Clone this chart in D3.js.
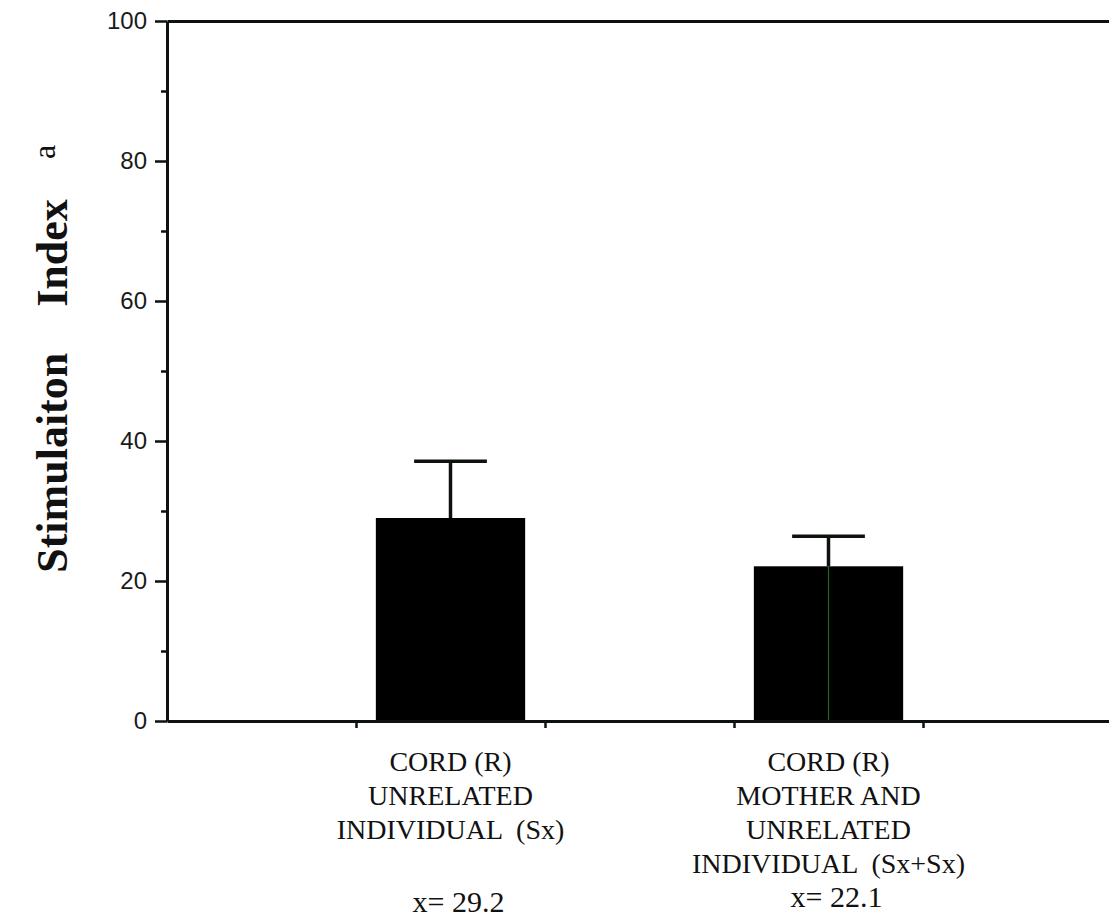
<!DOCTYPE html>
<html>
<head>
<meta charset="utf-8">
<script src="https://cdn.jsdelivr.net/npm/d3@7"></script>
<style>
  html, body { margin: 0; padding: 0; background: #fff; }
  svg { display: block; }
</style>
</head>
<body>
<div id="chart"></div>
<script>
// values
const slots = [1.5, 3.5];              // bar positions on the slot axis (0..5)
const means = [29.0, 22.1];
const upperErr = [37.1, 26.4];         // top of the error bar
const stemThrough = [false, true];     // 2nd stem shows through the black bar
const meanLabels = ["x= 29.2", "x= 22.1"];
const categoryLines = [
  ["CORD (R)", "UNRELATED", "INDIVIDUAL  (Sx)"],
  ["CORD (R)", "MOTHER AND", "UNRELATED", "INDIVIDUAL  (Sx+Sx)"]
];
const majorTicks = [0, 20, 40, 60, 80, 100];
const minorTicks = [10, 30, 50, 70, 90];
const slotTicks = [1, 2, 3, 4];

const W = 1109, H = 918;
const ink = "#0d120d";

const svg = d3.select("#chart")
  .append("svg")
    .attr("width", W)
    .attr("height", H);

svg.append("rect").attr("width", W).attr("height", H).attr("fill", "#fff");

// scales
const y = d3.scaleLinear().domain([0, 100]).range([721, 21]);
const x = d3.scaleLinear().domain([0, 5]).range([167, 1112]);
const barW = 0.79;   // in slot units
const capW = 0.385;

// bars
svg.selectAll("rect.bar")
  .data(means)
  .join("rect")
    .attr("class", "bar")
    .attr("x", (d, i) => x(slots[i] - barW / 2))
    .attr("width", x(barW) - x(0))
    .attr("y", d => y(d))
    .attr("height", d => y(0) - y(d))
    .attr("fill", "#000");

// error bar stems above the bars
svg.selectAll("line.stem")
  .data(upperErr)
  .join("line")
    .attr("class", "stem")
    .attr("x1", (d, i) => x(slots[i]))
    .attr("x2", (d, i) => x(slots[i]))
    .attr("y1", (d, i) => y(means[i]))
    .attr("y2", d => y(d))
    .attr("stroke", ink)
    .attr("stroke-width", 3.5);

// the thin stem that shows inside the second bar
const inner = means.map((d, i) => ({ v: d, s: slots[i], show: stemThrough[i] })).filter(d => d.show);
svg.selectAll("line.inner")
  .data(inner)
  .join("line")
    .attr("class", "inner")
    .attr("x1", d => x(d.s))
    .attr("x2", d => x(d.s))
    .attr("y1", y(0))
    .attr("y2", d => y(d.v))
    .attr("stroke", "#1f6b1f")
    .attr("stroke-width", 1.2);

// caps
svg.selectAll("line.cap")
  .data(upperErr)
  .join("line")
    .attr("class", "cap")
    .attr("x1", (d, i) => x(slots[i] - capW / 2))
    .attr("x2", (d, i) => x(slots[i] + capW / 2))
    .attr("y1", d => y(d))
    .attr("y2", d => y(d))
    .attr("stroke", ink)
    .attr("stroke-width", 3.5);

// top frame line
svg.append("g")
  .attr("transform", `translate(0,${y(100)})`)
  .call(d3.axisTop(x).tickValues([]).tickSizeOuter(0))
  .call(g => g.select(".domain").attr("stroke", ink).attr("stroke-width", 3));

// bottom axis, ticks only between slots
svg.append("g")
  .attr("transform", `translate(0,${y(0)})`)
  .call(d3.axisBottom(x).tickValues(slotTicks).tickSize(7).tickSizeOuter(0).tickFormat(""))
  .call(g => g.select(".domain").attr("stroke", ink).attr("stroke-width", 3))
  .call(g => g.selectAll(".tick line").attr("stroke", ink).attr("stroke-width", 2.5));

// minor y ticks
svg.append("g")
  .attr("transform", `translate(${x(0)},0)`)
  .call(d3.axisLeft(y).tickValues(minorTicks).tickSize(6).tickSizeOuter(0).tickFormat(""))
  .call(g => g.select(".domain").remove())
  .call(g => g.selectAll(".tick line").attr("stroke", ink).attr("stroke-width", 2.5));

// major y ticks with labels
svg.append("g")
  .attr("transform", `translate(${x(0)},0)`)
  .call(d3.axisLeft(y).tickValues(majorTicks).tickSize(12).tickSizeOuter(0).tickPadding(8))
  .call(g => g.select(".domain").attr("stroke", ink).attr("stroke-width", 3))
  .call(g => g.selectAll(".tick line").attr("stroke", ink).attr("stroke-width", 2.5))
  .call(g => g.selectAll(".tick text")
    .attr("fill", "#1a1a1a")
    .style("font-family", "'Liberation Sans', Arial, sans-serif")
    .style("font-size", "24px"));

// y-axis title
const yTitle = svg.append("text")
  .attr("transform", `translate(67,${(y(0) + y(100)) / 2 + 15}) rotate(-90)`)
  .attr("text-anchor", "middle")
  .attr("fill", "#111")
  .style("font-family", "'Liberation Serif', 'Times New Roman', serif")
  .style("font-weight", "bold")
  .style("font-size", "44px");
yTitle.append("tspan").text("Stimulaiton");
yTitle.append("tspan").attr("dx", 46).text("Index");

// superscript a
svg.append("text")
  .attr("transform", "translate(55,152) rotate(-90)")
  .attr("text-anchor", "middle")
  .attr("fill", "#111")
  .style("font-family", "'Liberation Serif', 'Times New Roman', serif")
  .style("font-size", "32px")
  .text("a");

// category labels under the bars
const labelFont = "'Liberation Serif', 'Times New Roman', serif";
categoryLines.forEach((lines, i) => {
  const t = svg.append("text")
    .attr("text-anchor", "middle")
    .attr("fill", "#111")
    .style("font-family", labelFont)
    .style("font-size", "28px")
    .style("white-space", "pre");
  lines.forEach((ln, k) => {
    t.append("tspan")
      .attr("x", x(slots[i]))
      .attr("y", y(0) + 50 + k * 34)
      .text(ln);
  });
});

// mean values
svg.selectAll("text.mean")
  .data(meanLabels)
  .join("text")
    .attr("class", "mean")
    .attr("x", (d, i) => x(slots[i]) + 8)
    .attr("y", (d, i) => y(0) + (i === 0 ? 191 : 186))
    .attr("text-anchor", "middle")
    .attr("fill", "#111")
    .style("font-family", labelFont)
    .style("font-size", "30px")
    .text(d => d);
</script>
</body>
</html>
